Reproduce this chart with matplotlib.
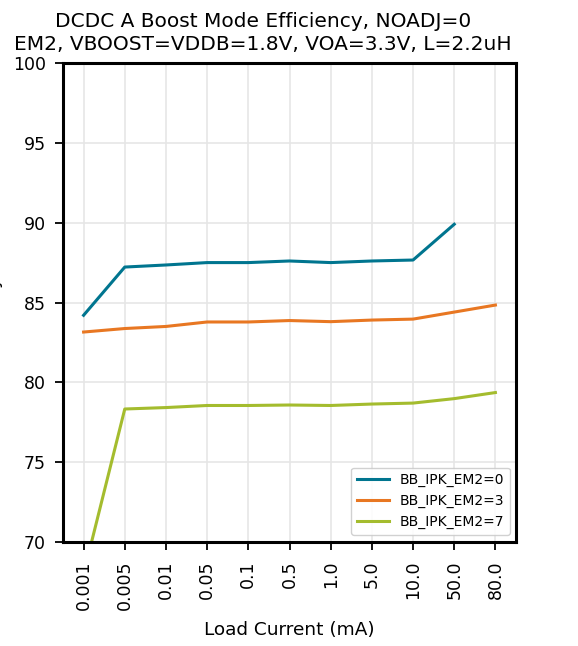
import matplotlib
matplotlib.use("Agg")
import matplotlib.pyplot as plt

loads = ["0.001", "0.005", "0.01", "0.05", "0.1", "0.5", "1.0", "5.0", "10.0", "50.0", "80.0"]
eff_ipk0 = [84.2, 87.22, 87.35, 87.5, 87.5, 87.6, 87.5, 87.6, 87.66, 89.9]
eff_ipk3 = [83.15, 83.37, 83.5, 83.78, 83.78, 83.87, 83.8, 83.9, 83.96, 84.4, 84.84]
eff_ipk7 = [68.0, 78.33, 78.42, 78.55, 78.55, 78.58, 78.55, 78.64, 78.7, 78.98, 79.36]

series = [
    ("BB_IPK_EM2=0", eff_ipk0, "#00758f"),
    ("BB_IPK_EM2=3", eff_ipk3, "#e87722"),
    ("BB_IPK_EM2=7", eff_ipk7, "#a4bc2e"),
]

W, H = 578, 646
fig = plt.figure(figsize=(W / 100, H / 100), dpi=100)
ax = fig.add_axes([63 / W, 1 - 542 / H, (516 - 63) / W, (542 - 63) / H])

for label, vals, color in series:
    ax.plot(range(len(vals)), vals, color=color, lw=2.2, label=label)

ax.set_xticks(range(len(loads)))
ax.set_xticklabels(loads, rotation=90)
ax.set_xlim(-0.5, 10.5)
ax.set_ylim(70, 100)
ax.set_yticks([70, 75, 80, 85, 90, 95, 100])
ax.tick_params(labelsize=12.5, direction="out", length=6, width=1.3)
ax.tick_params(axis="y", pad=6.5)
ax.tick_params(axis="x", pad=7)
ax.grid(True, color="#e6e6e6", lw=1.2)
ax.set_axisbelow(True)
for sp in ax.spines.values():
    sp.set_linewidth(2.2)

ax.set_xlabel("Load Current (mA)", fontsize=13.3, labelpad=8)
# the y label sits mostly off the left edge, as in the original
ax.set_ylabel("Efficiency (%)", fontsize=13)
ax.yaxis.set_label_coords(-60 / 453, 0.5)

fig.text(263 / W, 1 - 54 / H,
         "DCDC A Boost Mode Efficiency, NOADJ=0\nEM2, VBOOST=VDDB=1.8V, VOA=3.3V, L=2.2uH",
         fontsize=14.5, ha="center", va="bottom", linespacing=1.25)

ax.legend(loc="lower right", fontsize=10, handlelength=2.3,
          bbox_to_anchor=(1 - 6 / 453, 7 / 479), borderaxespad=0, framealpha=0.9)

fig.savefig("out.png", dpi=100)
